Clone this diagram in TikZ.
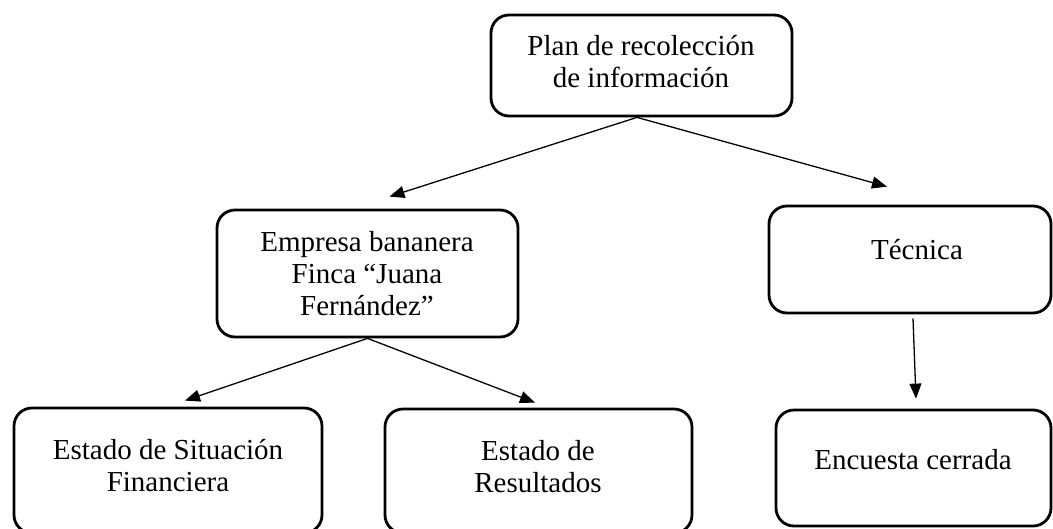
\documentclass[tikz,border=0pt]{standalone}
\usepackage{fontspec}
\setmainfont{Liberation Serif}
\usetikzlibrary{arrows.meta}
\begin{document}
\begin{tikzpicture}[x=1pt,y=-1pt,
 box/.style={draw, line width=2.8pt, rounded corners=18pt, inner sep=0pt},
 lbl/.style={align=center, font=\fontsize{29}{32}\selectfont, inner sep=0pt},
 arr/.style={-{Triangle[length=15pt,width=12pt]}, line width=1.3pt}]
\useasboundingbox (0,0) rectangle (1053,528);
% boxes
\node[box, minimum width=301pt, minimum height=101pt] (top) at (641.5,65.5) {};
\node[box, minimum width=301pt, minimum height=127pt] (emp) at (367.5,273.5) {};
\node[box, minimum width=282pt, minimum height=107pt] (tec) at (910,259.5) {};
\node[box, minimum width=308pt, minimum height=125pt] (esf) at (168,470.5) {};
\node[box, minimum width=307pt, minimum height=124pt] (er) at (538.5,471) {};
\node[box, minimum width=275pt, minimum height=116pt] (enc) at (913.5,468) {};
% labels
\node[lbl] (topt) at (641,62) {Plan de recolección\\de información};
\node[lbl] (empt) at (367,274) {Empresa bananera\\Finca “Juana\\Fernández”};
\node[lbl] (tect) at (917,250) {Técnica};
\node[lbl] (esft) at (168,466) {Estado de Situación\\Financiera};
\node[lbl] (ert) at (538,467) {Estado de\\Resultados};
\node[lbl] (enct) at (913,460) {Encuesta cerrada};
% arrows
\draw[arr] ([xshift=-4.5pt]top.south) -- ([xshift=22pt,yshift=12pt]emp.north);
\draw[arr] ([xshift=-4.5pt]top.south) -- ([xshift=-23pt,yshift=18pt]tec.north);
\draw[arr] (emp.south) -- ([xshift=17pt,yshift=6pt]esf.north);
\draw[arr] (emp.south) -- ([xshift=-3.5pt,yshift=5pt]er.north);
\draw[arr] ([xshift=3pt,yshift=-4pt]tec.south) -- ([xshift=2.5pt,yshift=10pt]enc.north);
\end{tikzpicture}
\end{document}
